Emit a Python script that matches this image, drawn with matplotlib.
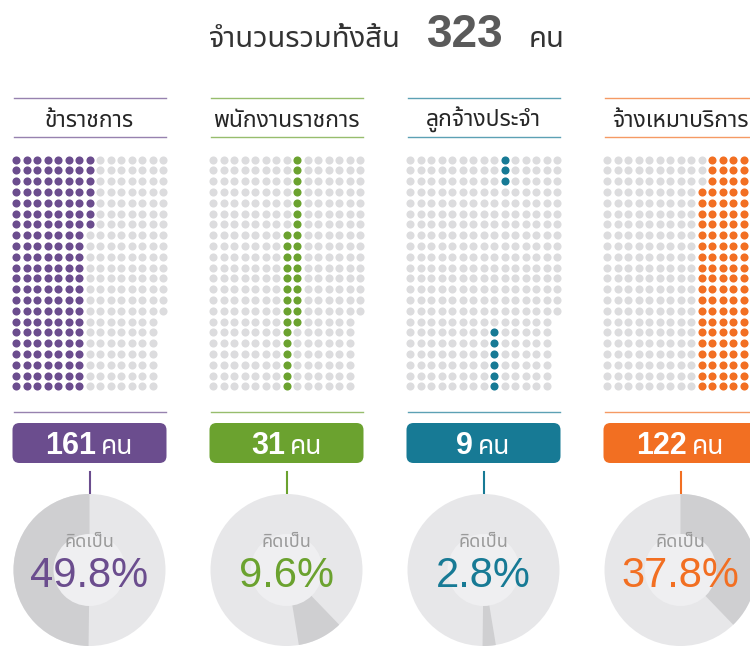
import matplotlib
matplotlib.use("Agg")
import matplotlib.pyplot as plt
from matplotlib.patches import Wedge, Circle, FancyBboxPatch
import numpy as np

# ---------------- data ----------------
categories = ["ข้าราชการ", "พนักงานราชการ", "ลูกจ้างประจำ", "จ้างเหมาบริการ"]
counts = [161, 31, 9, 122]
percents = [49.8, 9.6, 2.8, 37.8]
colors = ["#6b4d8e", "#6ba22f", "#177a95", "#f26f22"]
total = 323
title_left = "จำนวนรวมทั้งสิ้น"
unit = "คน"
pct_label = "คิดเป็น"
pie_order = [3, 1, 2, 0]          # clockwise from 12 o'clock

n_rows = 22
n_cols = 15
last_col_rows = 15

# ---------------- style ----------------
THAI = ["Noto Sans Thai", "DejaVu Sans"]
LATIN = ["Liberation Sans", "Noto Sans Thai", "DejaVu Sans"]
dot_grey = "#dcdcde"
ring_light = "#e7e7e9"
ring_dark = "#cfcfd1"
inner_col = "#efeff1"

fig = plt.figure(figsize=(7.5, 6.46), dpi=100)
ax = fig.add_axes([0, 0, 1, 1])
ax.set_xlim(0, 750)
ax.set_ylim(646, 0)
ax.axis("off")
renderer = fig.canvas.get_renderer()

# dot positions (column-major fill)
pos = []
for c in range(n_cols):
    nr = n_rows if c < n_cols - 1 else last_col_rows
    for r in range(nr):
        pos.append((c, r))
pos = np.array(pos)
bounds = np.concatenate([[0], np.cumsum(counts)])

panel_dx = 197.0
cx0 = 89.5
dot_dx = 10.5
dot_dy = 10.8
grid_y0 = 159.5
dot_s = 34

# pie angular extents
cum = 0.0
pie_span = {}
for i in pie_order:
    pie_span[i] = (cum / 100 * 360, (cum + percents[i]) / 100 * 360)
    cum += percents[i]

R_out = 76
R_in = 36
pie_cy = 570

# ---------------- title ----------------
ax.text(401, 47, title_left, ha="right", va="baseline", fontsize=21,
        color="#333333", family=THAI, fontweight="medium")
ax.text(465, 47, str(total), ha="center", va="baseline", fontsize=33,
        color="#5a5a5a", family=LATIN, fontweight="bold")
ax.text(529, 47, unit, ha="left", va="baseline", fontsize=21,
        color="#333333", family=THAI, fontweight="medium")

for i, cat in enumerate(categories):
    cx = cx0 + i * panel_dx
    col = colors[i]
    # header lines & label
    ax.plot([cx - 76, cx + 76], [98, 98], color=col, lw=1, alpha=0.7)
    ax.plot([cx - 76, cx + 76], [137, 137], color=col, lw=1, alpha=0.7)
    ax.text(cx, 127, cat, ha="center", va="baseline", fontsize=16.5,
            color="#262626", family=THAI, fontweight="medium")

    # dot grid
    xs = cx + (pos[:, 0] - 7) * dot_dx
    ys = grid_y0 + pos[:, 1] * dot_dy
    sel = np.zeros(len(pos), bool)
    sel[bounds[i]:bounds[i + 1]] = True
    ax.scatter(xs[~sel], ys[~sel], s=dot_s, color=dot_grey, lw=0, zorder=2)
    ax.scatter(xs[sel], ys[sel], s=dot_s, color=col, lw=0, zorder=3)

    # line under grid
    ax.plot([cx - 76, cx + 76], [412, 412], color=col, lw=1, alpha=0.7)

    # pill
    pill = FancyBboxPatch((cx - 77, 423), 154, 40,
                          boxstyle="round,pad=0,rounding_size=7",
                          fc=col, ec="none", zorder=3)
    ax.add_patch(pill)
    t_num = ax.text(0, 454, f"{counts[i]}", ha="left", va="baseline",
                    fontsize=22, color="white", family=LATIN,
                    fontweight="bold", zorder=4)
    t_unit = ax.text(0, 454, unit, ha="left", va="baseline",
                     fontsize=19, color="white", family=THAI,
                     fontweight="medium", zorder=4)
    w1 = t_num.get_window_extent(renderer).width
    w2 = t_unit.get_window_extent(renderer).width
    gap = 5
    left = cx - (w1 + gap + w2) / 2
    t_num.set_x(left)
    t_unit.set_x(left + w1 + gap)

    # connector
    ax.plot([cx, cx], [472, pie_cy - R_out + 2], color=col, lw=1.5, zorder=2)

    # donut
    ax.add_patch(Circle((cx, pie_cy), R_out, fc=ring_light, ec="none", zorder=3))
    a1, a2 = pie_span[i]
    ax.add_patch(Wedge((cx, pie_cy), R_out, a1 - 90, a2 - 90,
                       fc=ring_dark, ec="none", zorder=4))
    ax.add_patch(Circle((cx, pie_cy), R_in, fc=inner_col, ec="none", zorder=5))
    ax.text(cx, 547, pct_label, ha="center", va="baseline", fontsize=13,
            color="#9a9a9a", family=THAI, zorder=6)
    ax.text(cx, 587, f"{percents[i]}%", ha="center", va="baseline",
            fontsize=30, color=col, family=LATIN, zorder=6)

fig.savefig("out.png", dpi=100, facecolor="white")
